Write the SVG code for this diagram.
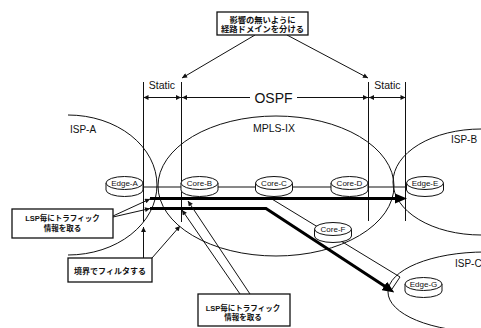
<svg xmlns="http://www.w3.org/2000/svg" width="481" height="328" viewBox="0 0 481 328">
<style>
.ln{fill:none;stroke:#111;stroke-width:1}
.thk{fill:none;stroke:#000;stroke-width:3}
.box{fill:#fff;stroke:#111;stroke-width:1.3}
.lat{font-family:"Liberation Sans",Arial,sans-serif;fill:#111}
.cjk{font-family:"Liberation Sans","Noto Sans CJK JP",sans-serif;font-weight:bold;fill:#111}
.nl{font-family:"Liberation Sans",Arial,sans-serif;font-size:8px;fill:#111;text-anchor:middle}
.dk{fill:#fff;stroke:#111;stroke-width:1}
</style>
<defs>
<marker id="ah" viewBox="0 0 10 10" refX="10" refY="5" markerWidth="7" markerHeight="5" markerUnits="userSpaceOnUse" orient="auto-start-reverse"><path d="M0,0 L10,5 L0,10 z" fill="#111"/></marker>
<marker id="big" viewBox="0 0 12 10" refX="2" refY="5" markerWidth="12" markerHeight="10" markerUnits="userSpaceOnUse" orient="auto"><path d="M0,0 L12,5 L0,10 z" fill="#000"/></marker>
<g id="disk">
<path class="dk" d="M-18.5,0 v7 a18.5,6.5 0 0 0 37,0 v-7"/>
<ellipse class="dk" rx="18.5" ry="6.5"/>
</g>
</defs>

<rect width="481" height="328" fill="#fff"/>

<g id="domains" class="ln">
<path d="M68,115 A89,70 0 0 1 68,255"/>
<ellipse cx="276" cy="186" rx="118" ry="70"/>
<ellipse cx="481" cy="182" rx="88" ry="53"/>
<ellipse cx="485" cy="292" rx="97" ry="40"/>
</g>
<g id="domain-labels" class="lat" font-size="10">
<text x="70" y="133">ISP-A</text>
<text x="253" y="132" font-size="10.5">MPLS-IX</text>
<text x="451" y="143">ISP-B</text>
<text x="455" y="267">ISP-C</text>
</g>

<g id="connectors">
<!-- boundary verticals -->
<path class="ln" d="M143.5,82 V222 M181.5,82 V222 M368.5,82 V221 M405.5,82 V221"/>
<!-- dimension arrows -->
<path class="ln" d="M143.5,97.5 H181" marker-start="url(#ah)" marker-end="url(#ah)"/>
<path class="ln" d="M182,97.5 H250" marker-start="url(#ah)"/>
<path class="ln" d="M297,97.5 H368" marker-end="url(#ah)"/>
<path class="ln" d="M369,97.5 H405.5" marker-start="url(#ah)" marker-end="url(#ah)"/>
<!-- top callouts -->
<path class="ln" d="M255,35 L182,78" marker-end="url(#ah)"/>
<path class="ln" d="M287,35 L368,78" marker-end="url(#ah)"/>
<!-- node links / LSP tubes -->
<path class="ln" d="M124,187 H425"/>
<path class="ln" d="M271,198.5 L400,277 L392,289"/>
<path class="thk" d="M150,198.5 H397" marker-end="url(#big)"/>
<path class="thk" d="M150,208.5 H266 L386,287" marker-end="url(#big)"/>
<!-- left box callouts -->
<path class="ln" d="M113,216 L150,199" marker-end="url(#ah)"/>
<path class="ln" d="M113,217 L150,208.5" marker-end="url(#ah)"/>
<!-- filter box callouts -->
<path class="ln" d="M143.5,258 V227" marker-end="url(#ah)"/>
<path class="ln" d="M152,258 L180,226" marker-end="url(#ah)"/>
<!-- bottom box callouts -->
<path class="ln" d="M240,294 L182,210" marker-end="url(#ah)"/>
<path class="ln" d="M250,294 L188,201" marker-end="url(#ah)"/>
</g>

<g id="dimension-labels" class="lat">
<text x="162" y="89" font-size="10.5" text-anchor="middle">Static</text>
<text x="387.5" y="89" font-size="10.5" text-anchor="middle">Static</text>
<text x="273.5" y="102.5" font-size="14" text-anchor="middle">OSPF</text>
</g>

<g id="Edge-A"><use href="#disk" x="124.5" y="183"/><text class="nl" x="124.5" y="186">Edge-A</text></g>
<g id="Core-B"><use href="#disk" x="199.5" y="183"/><text class="nl" x="199.5" y="186">Core-B</text></g>
<g id="Core-C"><use href="#disk" x="274" y="183"/><text class="nl" x="274" y="186">Core-C</text></g>
<g id="Core-D"><use href="#disk" x="349.5" y="183"/><text class="nl" x="349.5" y="186">Core-D</text></g>
<g id="Edge-E"><use href="#disk" x="425" y="183"/><text class="nl" x="425" y="186">Edge-E</text></g>
<g id="Core-F"><use href="#disk" x="333" y="229"/><text class="nl" x="333" y="232">Core-F</text></g>
<g id="Edge-G"><use href="#disk" x="423.5" y="284"/><text class="nl" x="423.5" y="287">Edge-G</text></g>

<g id="note-domain">
<rect class="box" x="217" y="12" width="91" height="23"/>
<text class="cjk" x="262.5" y="22.5" font-size="8.3" text-anchor="middle">影響の無いように</text>
<text class="cjk" x="262.5" y="32" font-size="8.3" text-anchor="middle">経路ドメインを分ける</text>
</g>
<g id="note-lsp-left">
<rect class="box" x="12" y="209" width="101" height="29"/>
<text class="cjk" x="62.5" y="221" font-size="7.5" text-anchor="middle">LSP毎にトラフィック</text>
<text class="cjk" x="62.5" y="231" font-size="7.5" text-anchor="middle">情報を取る</text>
</g>
<g id="note-filter">
<rect class="box" x="68" y="258" width="84" height="24"/>
<text class="cjk" x="110" y="274" font-size="8" text-anchor="middle">境界でフィルタする</text>
</g>
<g id="note-lsp-bottom">
<rect class="box" x="198" y="294" width="92" height="32"/>
<text class="cjk" x="243" y="311" font-size="7.5" text-anchor="middle">LSP毎にトラフィック</text>
<text class="cjk" x="243" y="320" font-size="7.5" text-anchor="middle">情報を取る</text>
</g>
</svg>
